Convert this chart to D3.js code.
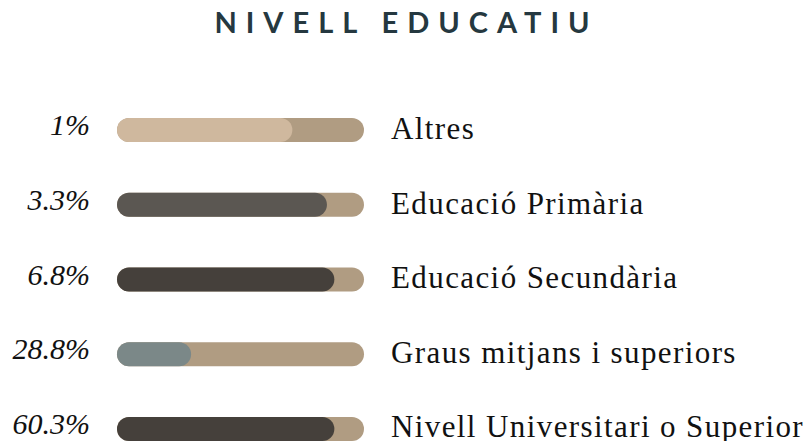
<!DOCTYPE html>
<html lang="ca">
<head>
<meta charset="utf-8">
<title>Nivell educatiu</title>
<script src="https://d3js.org/d3.v7.min.js"></script>
<style>
  html, body { margin: 0; padding: 0; background: #fff; }
  svg { display: block; }
</style>
</head>
<body>
<div id="chart"></div>
<script>
// categories and values as shown in the picture
var categories = ["Altres", "Educació Primària", "Educació Secundària", "Graus mitjans i superiors", "Nivell Universitari o Superior"];
var valueLabels = ["1%", "3.3%", "6.8%", "28.8%", "60.3%"];
// how far each dark bar is filled (0..1)
var fillShare = [0.71, 0.85, 0.88, 0.30, 0.88];
var fillColors = ["#cfb89e", "#5b5752", "#45403b", "#7b8888", "#45403b"];
var trackColor = "#b09c82";

var width = 807, height = 441;

var svg = d3.select("#chart")
  .append("svg")
    .attr("width", width)
    .attr("height", height);

// title (letter-spacing adds a trailing gap, so shift by half of it)
var titleSpacing = 9;
svg.append("text")
  .attr("x", 402 + titleSpacing / 2)
  .attr("y", 33)
  .attr("text-anchor", "middle")
  .style("font-family", "Lato, 'Open Sans', sans-serif")
  .style("font-weight", "bold")
  .style("font-size", "29px")
  .style("letter-spacing", titleSpacing + "px")
  .style("fill", "#253840")
  .text("NIVELL EDUCATIU");

// row positions for the bars
var y = d3.scalePoint()
  .domain(categories)
  .range([130, 429]);

// baselines for the category names (they sit a bit lower than the bars)
var yLabel = d3.scalePoint()
  .domain(categories)
  .range([139, 437]);

var x = d3.scaleLinear()
  .domain([0, 1])
  .range([117, 364]);

var barH = 24;

var rows = svg.selectAll("g.row")
  .data(categories)
  .enter()
  .append("g")
    .attr("class", "row");

// background track
rows.append("rect")
  .attr("x", x(0))
  .attr("y", function(d) { return y(d) - barH / 2; })
  .attr("width", x(1) - x(0))
  .attr("height", barH)
  .attr("rx", barH / 2)
  .style("fill", trackColor);

// filled part
rows.append("rect")
  .attr("x", x(0))
  .attr("y", function(d) { return y(d) - barH / 2; })
  .attr("width", function(d, i) { return x(fillShare[i]) - x(0); })
  .attr("height", barH)
  .attr("rx", barH / 2)
  .style("fill", function(d, i) { return fillColors[i]; });

// percent labels
rows.append("text")
  .attr("x", 90)
  .attr("y", function(d) { return y(d) + 5; })
  .attr("text-anchor", "end")
  .style("font-family", "'Liberation Serif', 'DejaVu Serif', serif")
  .style("font-style", "italic")
  .style("font-size", "30px")
  .style("fill", "#111")
  .text(function(d, i) { return valueLabels[i]; });

// category labels
rows.append("text")
  .attr("x", 391)
  .attr("y", function(d) { return yLabel(d); })
  .style("font-family", "'Liberation Serif', 'DejaVu Serif', serif")
  .style("font-size", "31px")
  .style("letter-spacing", "1.4px")
  .style("fill", "#111")
  .text(function(d) { return d; });
</script>
</body>
</html>
